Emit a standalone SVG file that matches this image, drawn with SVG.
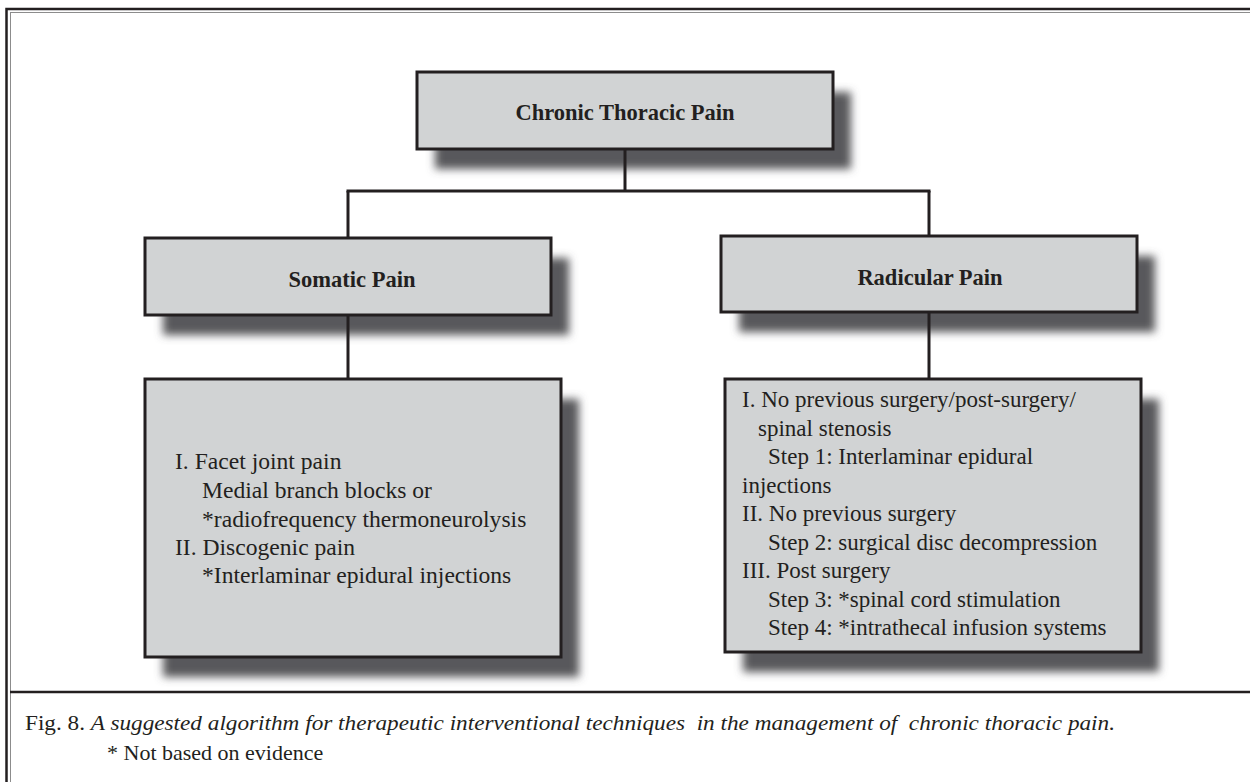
<svg xmlns="http://www.w3.org/2000/svg" width="1250" height="782" viewBox="0 0 1250 782">
<defs>
<filter id="sh" x="-20%" y="-20%" width="140%" height="160%">
<feGaussianBlur stdDeviation="4.5"/>
</filter>
<style>
.box{fill:#d1d3d4;stroke:#231f20;stroke-width:3}
.shadow{fill:#58595b;filter:url(#sh)}
.title{font-family:"Liberation Serif",serif;font-weight:bold;font-size:22.5px;fill:#231f20;text-anchor:middle}
.body{font-family:"Liberation Serif",serif;font-size:23px;fill:#231f20}
.cap{font-family:"Liberation Serif",serif;font-size:22px;fill:#231f20}
.conn{stroke:#231f20;stroke-width:3;fill:none}
</style>
</defs>
<rect width="1250" height="782" fill="#ffffff"/>
<g id="frame">
<rect x="6.5" y="9" width="1270" height="800" fill="none" stroke="#231f20" stroke-width="2.5"/>
<rect x="10.5" y="12.5" width="1270" height="800" fill="none" stroke="#8c8c8c" stroke-width="1"/>
<line x1="10" y1="692" x2="1250" y2="692" stroke="#231f20" stroke-width="2.5"/>
</g>
<g id="node-chronic">
<rect class="shadow" x="435" y="92" width="416" height="77"/>
<rect class="box" x="417" y="72" width="416" height="77"/>
<text class="title" x="625" y="120">Chronic Thoracic Pain</text>
</g>
<g id="node-somatic">
<rect class="shadow" x="163" y="258" width="406" height="77"/>
<rect class="box" x="145" y="238" width="406" height="77"/>
<text class="title" x="352" y="287">Somatic Pain</text>
</g>
<g id="node-radicular">
<rect class="shadow" x="739" y="256" width="416" height="76"/>
<rect class="box" x="721" y="236" width="416" height="76"/>
<text class="title" x="930" y="285">Radicular Pain</text>
</g>
<g id="node-somatic-detail">
<rect class="shadow" x="163" y="399" width="416" height="278"/>
<rect class="box" x="145" y="379" width="416" height="278"/>
<text class="body" style="font-size:23.6px">
<tspan x="175" y="469">I. Facet joint pain</tspan>
<tspan x="202" y="498">Medial branch blocks or</tspan>
<tspan x="202" y="527">*radiofrequency thermoneurolysis</tspan>
<tspan x="175" y="555">II. Discogenic pain</tspan>
<tspan x="202" y="583">*Interlaminar epidural injections</tspan>
</text>
</g>
<g id="node-radicular-detail">
<rect class="shadow" x="743" y="399" width="416" height="273"/>
<rect class="box" x="725" y="379" width="416" height="273"/>
<text class="body">
<tspan x="742" y="407">I. No previous surgery/post-surgery/</tspan>
<tspan x="758" y="435.5">spinal stenosis</tspan>
<tspan x="768" y="464">Step 1: Interlaminar epidural</tspan>
<tspan x="742" y="492.5">injections</tspan>
<tspan x="742" y="521">II. No previous surgery</tspan>
<tspan x="768" y="549.5">Step 2: surgical disc decompression</tspan>
<tspan x="742" y="578">III. Post surgery</tspan>
<tspan x="768" y="606.5">Step 3: *spinal cord stimulation</tspan>
<tspan x="768" y="635">Step 4: *intrathecal infusion systems</tspan>
</text>
</g>
<g id="connectors">
<line class="conn" x1="625" y1="149" x2="625" y2="191"/>
<line class="conn" x1="346.5" y1="191" x2="930.5" y2="191"/>
<line class="conn" x1="348" y1="191" x2="348" y2="238"/>
<line class="conn" x1="929" y1="191" x2="929" y2="236"/>
<line class="conn" x1="348" y1="315" x2="348" y2="379"/>
<line class="conn" x1="929" y1="312" x2="929" y2="379"/>
</g>
<g id="caption">
<text class="cap" x="25" y="730" xml:space="preserve" textLength="1090" lengthAdjust="spacingAndGlyphs">Fig. 8. <tspan font-style="italic">A suggested algorithm for therapeutic interventional techniques  in the management of  chronic thoracic pain.</tspan></text>
<text class="cap" x="107" y="760" font-size="19px">* Not based on evidence</text>
</g>
</svg>
